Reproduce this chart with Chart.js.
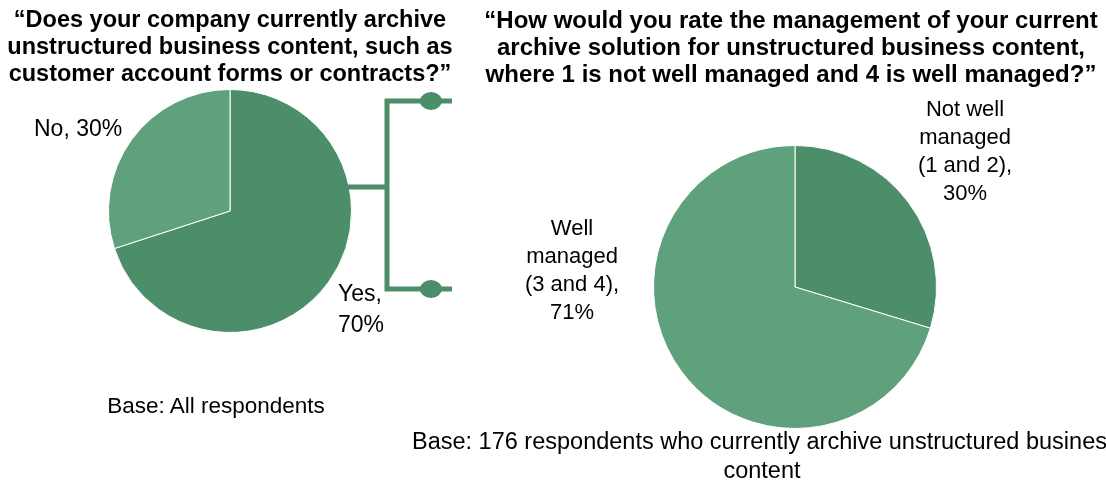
<!DOCTYPE html>
<html>
<head>
<meta charset="utf-8">
<script src="https://cdn.jsdelivr.net/npm/chart.js@4/dist/chart.umd.min.js"></script>
<style>
  html, body { margin: 0; padding: 0; background: #fff; }
  #stage { position: relative; width: 1106px; height: 485px; overflow: hidden; }
  .cv { position: absolute; top: 0; }
  .txt { position: absolute; color: #000; white-space: nowrap; font-family: "Liberation Sans", Arial, sans-serif; }
  .title { font-weight: bold; font-size: 23.5px; line-height: 27px; text-align: center; }
  .narrow { font-family: "Liberation Sans Narrow", "Arial Narrow", "Liberation Sans", sans-serif; }
  .lbl { font-size: 22px; line-height: 28px; text-align: center; }
</style>
</head>
<body>
<div id="stage">
  <div class="cv" style="left:0;width:460px;height:485px;"><canvas id="left"></canvas></div>
  <div class="cv" style="left:470px;width:636px;height:485px;"><canvas id="right"></canvas></div>

  <div class="txt title" style="left:0;width:460px;top:6px;">“Does your company currently archive<br>unstructured business content, such as<br>customer account forms or contracts?”</div>
  <div class="txt title narrow" style="left:470px;width:642px;top:6px;font-size:24px;">“How would you rate the management of your current<br>archive solution for unstructured business content,<br>where 1 is not well managed and 4 is well managed?”</div>

  <div id="lblNo" class="txt lbl" style="left:34px;top:114px;text-align:left;font-size:23px;"></div>
  <div id="lblYes" class="txt lbl" style="left:338px;top:278px;text-align:left;line-height:31px;font-size:23px;"></div>
  <div id="lblNot" class="txt lbl" style="left:865px;width:200px;top:95px;"></div>
  <div id="lblWell" class="txt lbl" style="left:472px;width:200px;top:214px;"></div>

  <div class="txt lbl" style="left:0;width:432px;top:392px;font-size:22.5px;">Base: All respondents</div>
  <div class="txt lbl narrow" style="left:412px;width:700px;top:427px;line-height:29px;font-size:23.5px;">Base: 176 respondents who currently archive unstructured business<br>content</div>
</div>

<script>
// Question 1: does the company archive unstructured content?
const archiveCategories = ['Yes', 'No'];
const archiveValues = [70, 30];

// Question 2: how well managed is the current archive solution?
const managementCategories = ['Not well managed (1 and 2)', 'Well managed (3 and 4)'];
const managementValues = [30, 71];

const darkGreen = '#4b8e69';
const lightGreen = '#5fa17c';

// Slice labels, text built from the same values that size the slices
document.getElementById('lblYes').innerHTML = archiveCategories[0] + ',<br>' + archiveValues[0] + '%';
document.getElementById('lblNo').innerHTML = archiveCategories[1] + ', ' + archiveValues[1] + '%';
document.getElementById('lblNot').innerHTML = 'Not well<br>managed<br>(1 and 2),<br>' + managementValues[0] + '%';
document.getElementById('lblWell').innerHTML = 'Well<br>managed<br>(3 and 4),<br>' + managementValues[1] + '%';

// Bracket linking the "Yes" slice to the follow-up question
const bracketPlugin = {
  id: 'bracket',
  afterDraw(chart) {
    const arc = chart.getDatasetMeta(0).data[0];
    const cx = arc.x, cy = arc.y, r = arc.outerRadius;
    const ctx = chart.ctx;
    const vx = 387, topY = 101, midY = 187, botY = 289, endX = 452;
    const startX = cx + Math.sqrt(r * r - (midY - cy) * (midY - cy)) - 2;
    ctx.save();
    ctx.strokeStyle = darkGreen;
    ctx.fillStyle = darkGreen;
    ctx.lineWidth = 5;
    ctx.lineCap = 'butt';
    ctx.lineJoin = 'miter';
    ctx.beginPath();
    ctx.moveTo(startX, midY); ctx.lineTo(vx, midY);
    ctx.moveTo(endX, topY); ctx.lineTo(vx, topY); ctx.lineTo(vx, botY); ctx.lineTo(endX, botY);
    ctx.stroke();
    [topY, botY].forEach(y => {
      ctx.beginPath();
      ctx.ellipse(431, y, 11, 9, 0, 0, Math.PI * 2);
      ctx.fill();
    });
    ctx.restore();
  }
};

const baseOptions = {
  responsive: true,
  maintainAspectRatio: false,
  animation: false,
  events: [],
  plugins: { legend: { display: false }, tooltip: { enabled: false }, title: { display: false } }
};

new Chart(document.getElementById('left'), {
  type: 'pie',
  data: {
    labels: archiveCategories,
    datasets: [{
      data: archiveValues,
      backgroundColor: [darkGreen, lightGreen],
      borderColor: '#ffffff',
      borderWidth: 1
    }]
  },
  options: Object.assign({}, baseOptions, {
    layout: { padding: { left: 108, top: 89, right: 108, bottom: 152 } }
  }),
  plugins: [bracketPlugin]
});

new Chart(document.getElementById('right'), {
  type: 'pie',
  data: {
    labels: managementCategories,
    datasets: [{
      data: managementValues,
      backgroundColor: [darkGreen, lightGreen],
      borderColor: '#ffffff',
      borderWidth: 1
    }]
  },
  options: Object.assign({}, baseOptions, {
    layout: { padding: { left: 183, top: 145, right: 169, bottom: 56 } }
  })
});
</script>
</body>
</html>
